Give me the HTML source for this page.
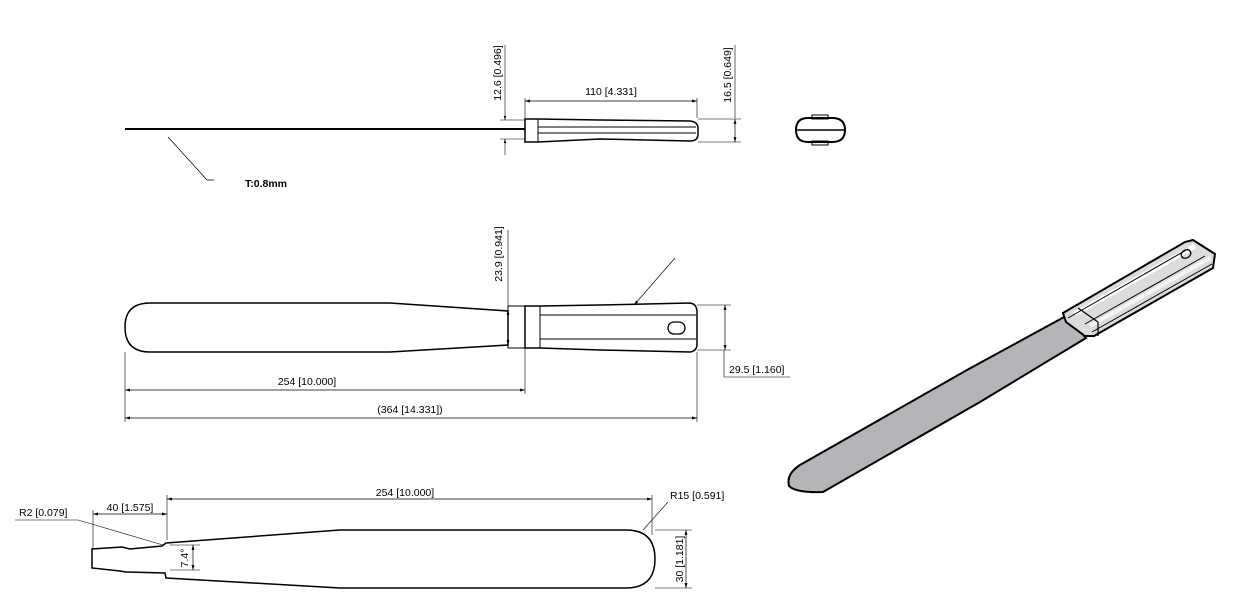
<!DOCTYPE html>
<html><head><meta charset="utf-8"><style>
html,body{margin:0;padding:0;background:#fff;}
svg{display:block;font-family:"Liberation Sans",Arial,sans-serif;}
</style></head><body>
<svg width="1257" height="612" viewBox="0 0 1257 612" xmlns="http://www.w3.org/2000/svg">
<defs>
<marker id="a" viewBox="0 0 10 10" refX="10" refY="5" markerWidth="7" markerHeight="7" orient="auto-start-reverse"><path d="M0,2 L10,5 L0,8 z" fill="#000"/></marker>
</defs>
<g fill="none" stroke="#000" stroke-width="1">
<!-- TOP VIEW -->
<line x1="125" y1="129" x2="525" y2="129" stroke-width="2"/>
<path d="M525,119 L538,119 L600,120 L690,121 Q698,122 698,128 L698,134 Q698,141 690,141 L600,139 L538,142 L525,142 Z" stroke-width="1.5"/>
<line x1="538" y1="119" x2="538" y2="142"/>
<line x1="538" y1="127" x2="696" y2="127"/>
<line x1="538" y1="133" x2="696" y2="133"/>
<line x1="525" y1="101" x2="697" y2="101" marker-start="url(#a)" marker-end="url(#a)" stroke-width="0.7"/>
<line x1="525" y1="98" x2="525" y2="118" stroke-width="0.6"/>
<line x1="697" y1="98" x2="697" y2="118" stroke-width="0.6"/>
<line x1="505" y1="45" x2="505" y2="120" stroke-width="0.6" marker-end="url(#a)"/>
<line x1="505" y1="155" x2="505" y2="139" stroke-width="0.6" marker-end="url(#a)"/>
<line x1="500" y1="120" x2="525" y2="120" stroke-width="0.6"/>
<line x1="500" y1="139" x2="525" y2="139" stroke-width="0.6"/>
<line x1="735" y1="45" x2="735" y2="118" stroke-width="0.6"/>
<line x1="735" y1="119" x2="735" y2="142" stroke-width="0.7" marker-start="url(#a)" marker-end="url(#a)"/>
<line x1="698" y1="119" x2="741" y2="119" stroke-width="0.6"/>
<line x1="698" y1="142" x2="741" y2="142" stroke-width="0.6"/>
<!-- section -->
<path d="M808,118 L832,118 Q845,118 845,130 Q845,142 832,142 L808,142 Q796,142 796,130 Q796,118 808,118 Z" stroke-width="2"/>
<line x1="797" y1="130" x2="844" y2="130" stroke-width="1.5"/>
<rect x="812" y="115" width="16" height="4" stroke-width="1"/>
<rect x="812" y="141" width="16" height="4" stroke-width="1"/>
<!-- leader T -->
<polyline points="168,137 207,180 214,180" stroke-width="0.7"/>

<!-- FRONT VIEW -->
<path d="M150,303 L390,303 L508,311 L508,345 L390,352 L150,352 Q125,352 125,327 Q125,303 150,303 Z" stroke-width="1.5"/>
<rect x="508" y="306" width="17" height="42" stroke-width="1"/>
<path d="M525,306 L540,306 L600,305 L690,303 Q697,304 697,312 L697,344 Q697,351 690,352 L600,350 L540,348 L525,348 Z" stroke-width="1.5"/>
<line x1="540" y1="306" x2="540" y2="348"/>
<line x1="540" y1="315" x2="696" y2="315"/>
<line x1="540" y1="339" x2="696" y2="339"/>
<rect x="668" y="322" width="17" height="12" rx="6" stroke-width="1.3"/>
<line x1="508" y1="310" x2="508" y2="345" stroke-width="0.7" marker-start="url(#a)" marker-end="url(#a)"/>
<line x1="508" y1="230" x2="508" y2="310" stroke-width="0.6"/>
<line x1="697" y1="305" x2="731" y2="305" stroke-width="0.6"/>
<line x1="697" y1="350" x2="731" y2="350" stroke-width="0.6"/>
<line x1="725" y1="305" x2="725" y2="350" stroke-width="0.7" marker-start="url(#a)" marker-end="url(#a)"/>
<polyline points="724,350 724,377 790,377" stroke-width="0.6"/>
<line x1="675" y1="258" x2="634" y2="305" stroke-width="0.7" marker-end="url(#a)"/>
<line x1="125" y1="352" x2="125" y2="422" stroke-width="0.6"/>
<line x1="525" y1="348" x2="525" y2="394" stroke-width="0.6"/>
<line x1="697" y1="352" x2="697" y2="422" stroke-width="0.6"/>
<line x1="125" y1="390" x2="525" y2="390" stroke-width="0.7" marker-start="url(#a)" marker-end="url(#a)"/>
<line x1="125" y1="418" x2="697" y2="418" stroke-width="0.7" marker-start="url(#a)" marker-end="url(#a)"/>

<!-- BOTTOM VIEW -->
<path d="M166,543 L340,530 L626,530 Q655,530 655,559 Q655,588 626,588 L340,588 L166,578 L165,573 L126,572 L120,571 L92,568 L92,549 L122,547 L130,549 L162,546 Z" stroke-width="1.5"/>
<line x1="93" y1="510" x2="93" y2="549" stroke-width="0.6"/>
<line x1="167" y1="495" x2="167" y2="540" stroke-width="0.6"/>
<line x1="652" y1="495" x2="652" y2="535" stroke-width="0.6"/>
<line x1="93" y1="514" x2="167" y2="514" stroke-width="0.7" marker-start="url(#a)" marker-end="url(#a)"/>
<line x1="167" y1="499" x2="652" y2="499" stroke-width="0.7" marker-start="url(#a)" marker-end="url(#a)"/>
<polyline points="15,520 78,520 163,545" stroke-width="0.6"/>
<line x1="668" y1="502" x2="643" y2="530" stroke-width="0.6"/>
<line x1="193" y1="545" x2="193" y2="570" stroke-width="0.7" marker-start="url(#a)" marker-end="url(#a)"/>
<line x1="170" y1="545" x2="200" y2="545" stroke-width="0.5"/>
<line x1="170" y1="570" x2="200" y2="570" stroke-width="0.5"/>
<line x1="655" y1="530" x2="692" y2="530" stroke-width="0.6"/>
<line x1="655" y1="588" x2="692" y2="588" stroke-width="0.6"/>
<line x1="686" y1="530" x2="686" y2="588" stroke-width="0.7" marker-start="url(#a)" marker-end="url(#a)"/>

<!-- ISO VIEW -->
<path d="M1066,316 L967,370 L800,465 Q786,474 789,486 Q796,493 823,492 L980,402 L1086,338 Z" fill="#b4b4b9" stroke-width="2"/>
<path d="M1063,313 L1185,242 L1193,240 L1215,254 L1213,268 L1094,336 L1085,336 L1066,322 Z" fill="#dcdcdc" stroke-width="2"/>
<path d="M1075,314 L1195,246" stroke="#fff" stroke-width="5"/>
<path d="M1090,326 L1210,258" stroke="#f4f4f4" stroke-width="4"/>
<line x1="1068" y1="318" x2="1188" y2="249" stroke-width="1"/>
<line x1="1085" y1="324" x2="1205" y2="256" stroke-width="1"/>
<line x1="1092" y1="332" x2="1212" y2="264" stroke-width="1"/>
<line x1="1078" y1="308" x2="1098" y2="322" stroke-width="1.2"/>
<line x1="1098" y1="322" x2="1098" y2="336" stroke-width="1.2"/>
<ellipse cx="1186" cy="254" rx="5" ry="4" transform="rotate(-30 1186 254)" stroke-width="1.3"/>
</g>
<g font-size="10.5" fill="#000">
<text x="611" y="95" text-anchor="middle">110 [4.331]</text>
<text transform="translate(501,73) rotate(-90)" text-anchor="middle">12.6 [0.496]</text>
<text transform="translate(731,75) rotate(-90)" text-anchor="middle">16.5 [0.649]</text>
<text x="245" y="187" font-weight="bold">T:0.8mm</text>
<text transform="translate(502,254) rotate(-90)" text-anchor="middle">23.9 [0.941]</text>
<text x="729" y="373">29.5 [1.160]</text>
<text x="307" y="385" text-anchor="middle">254 [10.000]</text>
<text x="410" y="413" text-anchor="middle">(364 [14.331])</text>
<text x="405" y="496" text-anchor="middle">254 [10.000]</text>
<text x="130" y="511" text-anchor="middle">40 [1.575]</text>
<text x="19" y="516">R2 [0.079]</text>
<text x="670" y="499">R15 [0.591]</text>
<text transform="translate(188,558) rotate(-90)" text-anchor="middle">7.4°</text>
<text transform="translate(683,559) rotate(-90)" text-anchor="middle">30 [1.181]</text>
</g>
</svg>
</body></html>
